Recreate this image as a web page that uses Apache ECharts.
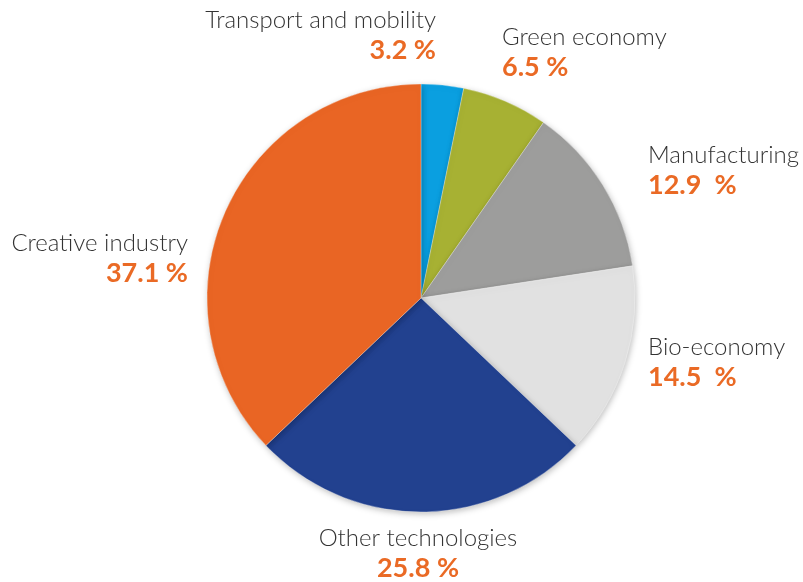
<!DOCTYPE html>
<html>
<head>
<meta charset="utf-8">
<script src="https://cdn.jsdelivr.net/npm/echarts@6/dist/echarts.min.js"></script>
<style>
    html, body { margin: 0; padding: 0; background: #fff; }
    #chart { width: 803px; height: 582px; }
</style>
</head>
<body>
<div id="chart"></div>
<script>
// data
var names = ['Transport and mobility', 'Green economy', 'Manufacturing', 'Bio-economy', 'Other technologies', 'Creative industry'];
var values = [3.2, 6.5, 12.9, 14.5, 25.8, 37.1];
var pctLabels = ['3.2 %', '6.5 %', '12.9  %', '14.5  %', '25.8 %', '37.1 %'];

(function () {
    var colors = ['#0A9FE0', '#A7B133', '#9D9D9C', '#E1E1E1', '#22418F', '#E96524'];

    // label anchors (x, y, align)
    var labelPos = [
        [436, 35, 'right'],
        [502, 52, 'left'],
        [648, 170, 'left'],
        [648, 362, 'left'],
        [418, 553, 'center'],
        [188, 258, 'right']
    ];

    var data = [];
    for (var i = 0; i < names.length; i++) {
        data.push({
            name: names[i],
            value: values[i],
            pct: pctLabels[i],
            itemStyle: { color: colors[i] }
        });
    }

    var myChart = echarts.init(document.getElementById('chart'));
    var option = {
        animation: false,
        series: [{
            type: 'pie',
            center: [421, 298],
            radius: 214,
            startAngle: 90,
            clockwise: true,
            avoidLabelOverlap: false,
            itemStyle: {
                borderColor: 'rgba(255,255,255,0.6)',
                borderWidth: 0.5,
                shadowBlur: 6,
                shadowColor: 'rgba(0,0,0,0.25)',
                shadowOffsetX: 1,
                shadowOffsetY: 2
            },
            label: {
                show: true,
                position: 'outside',
                formatter: function (p) {
                    return '{n|' + p.name + '}\n{p|' + p.data.pct + '}';
                },
                rich: {
                    n: {
                        fontFamily: 'Lato',
                        fontWeight: 300,
                        fontSize: 24,
                        color: '#333333',
                        lineHeight: 30
                    },
                    p: {
                        fontFamily: 'Lato',
                        fontWeight: 'bold',
                        fontSize: 27,
                        color: '#EA6A25',
                        lineHeight: 30
                    }
                }
            },
            labelLine: { show: false },
            labelLayout: function (params) {
                var lp = labelPos[params.dataIndex];
                return {
                    x: lp[0],
                    y: lp[1],
                    align: lp[2],
                    verticalAlign: 'middle'
                };
            },
            data: data
        }]
    };
    myChart.setOption(option);
})();
</script>
</body>
</html>
